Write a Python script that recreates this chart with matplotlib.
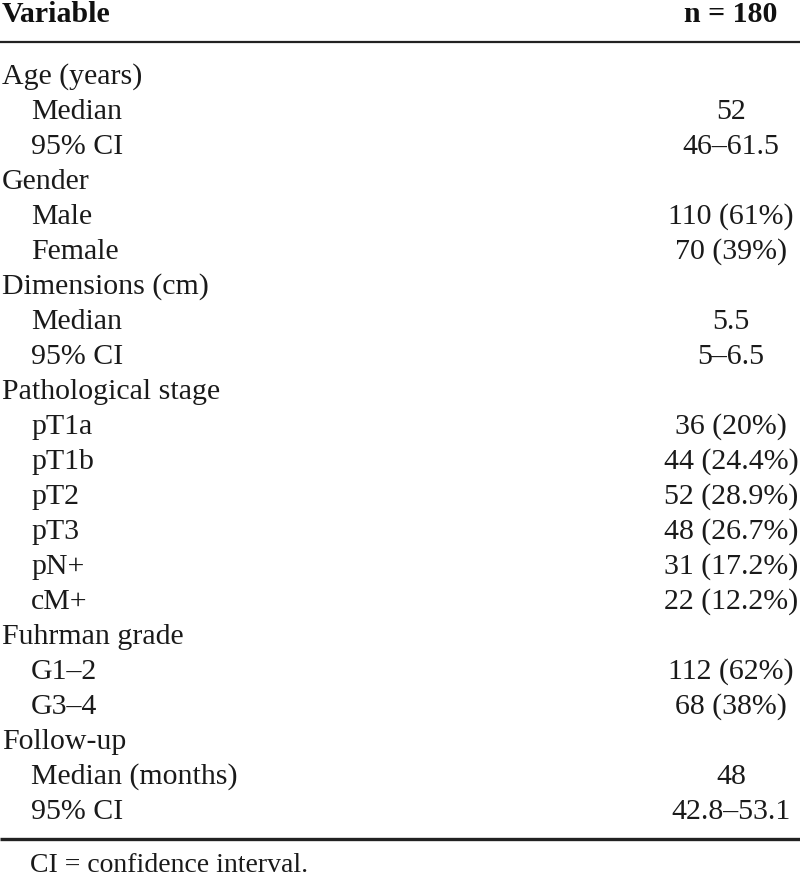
import matplotlib
matplotlib.use("Agg")
import matplotlib.pyplot as plt

# table content
header = ["Variable", "n = 180"]
labels = ["Age (years)", "Median", "95% CI",
          "Gender", "Male", "Female",
          "Dimensions (cm)", "Median", "95% CI",
          "Pathological stage", "pT1a", "pT1b", "pT2", "pT3", "pN+", "cM+",
          "Fuhrman grade", "G1\u20132", "G3\u20134",
          "Follow-up", "Median (months)", "95% CI"]
is_group = [1, 0, 0,
            1, 0, 0,
            1, 0, 0,
            1, 0, 0, 0, 0, 0, 0,
            1, 0, 0,
            1, 0, 0]
values = ["", "52", "46\u201361.5",
          "", "110 (61%)", "70 (39%)",
          "", "5.5", "5\u20136.5",
          "", "36 (20%)", "44 (24.4%)", "52 (28.9%)", "48 (26.7%)", "31 (17.2%)", "22 (12.2%)",
          "", "112 (62%)", "68 (38%)",
          "", "48", "42.8\u201353.1"]
footnote = "CI = confidence interval."

plt.rcParams['font.family'] = ['Liberation Serif', 'DejaVu Serif']
FS = 21.5

fig = plt.figure(figsize=(8, 8.81), dpi=100)
ax = fig.add_axes([0, 0, 1, 1])
ax.set_xlim(0, 800)
ax.set_ylim(881, 0)
ax.axis('off')

VAL_X = 731
ax.text(2, 14, header[0], fontsize=FS, fontweight='bold', va='center', ha='left', color='#111111')
ax.text(VAL_X, 14, header[1], fontsize=FS, fontweight='bold', va='center', ha='center', color='#111111')

ax.plot([0, 800], [42, 42], color='#222222', lw=1.6, solid_capstyle='butt')

y0 = 77
dy = 35.0
for i, (lab, grp, val) in enumerate(zip(labels, is_group, values)):
    y = y0 + i * dy
    x = 2 if grp else 31
    ax.text(x, y, lab, fontsize=FS, va='center', ha='left', color='#1a1a1a')
    if val:
        ax.text(VAL_X, y, val, fontsize=FS, va='center', ha='center', color='#1a1a1a')

ax.plot([0, 800], [839, 839], color='#222222', lw=2.4, solid_capstyle='butt')
ax.text(30, 865, footnote, fontsize=20, va='center', ha='left', color='#1a1a1a')

fig.savefig("out.png", dpi=100)
